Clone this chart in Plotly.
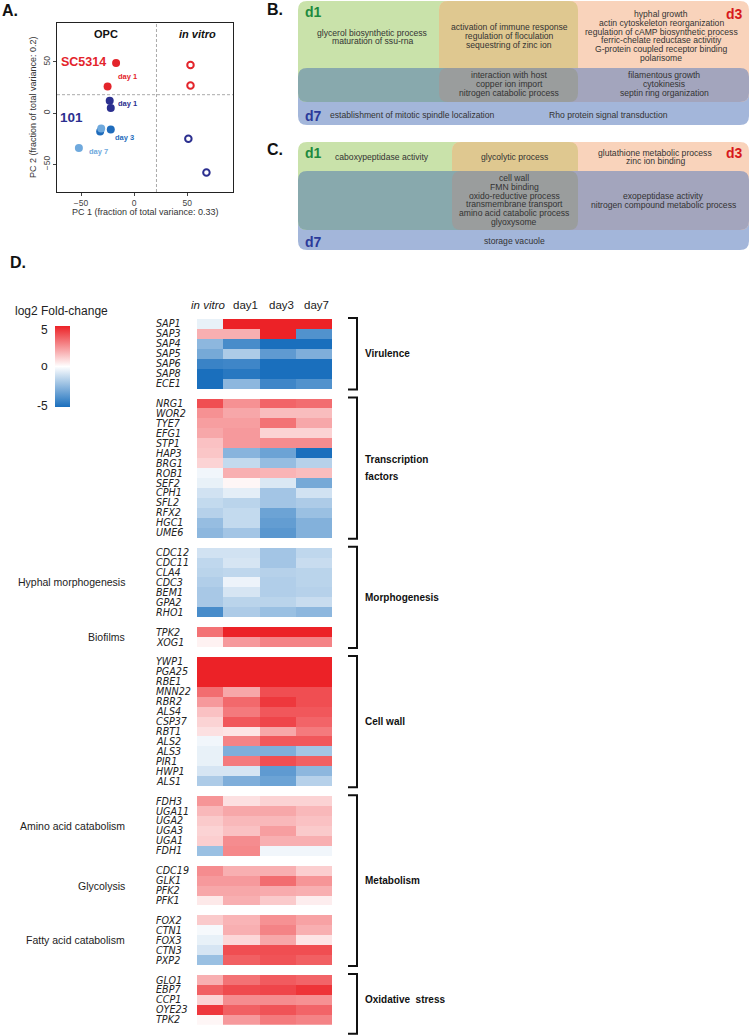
import plotly.graph_objects as go

W, H = 750, 1036
SANS = "Liberation Sans, Arial, Helvetica, sans-serif"
GENEF = "DejaVu Sans, Liberation Sans, sans-serif"

# ---------------- Panel A: PCA data ----------------
sc_opc_x = [-17, -25]
sc_opc_y = [49, 26]
s101_d1_x = [-23, -22]
s101_d1_y = [12, 5]
s101_d3_x = [-32, -22]
s101_d3_y = [-18, -16]
s101_d7_x = [-52, -31]
s101_d7_y = [-34, -15]
sc_vitro_x = [53, 53]
sc_vitro_y = [47, 27]
s101_vitro_x = [51, 68]
s101_vitro_y = [-25, -58]
pca_ticks = [-50, 0, 50]
pc1_title = "PC 1 (fraction of total variance: 0.33)"
pc2_title = "PC 2 (fraction of total variance: 0.2)"
pca_xsplit = 21
pca_ysplit = 18

# ---------------- Panel D: heatmap data ----------------
conditions = ["in vitro", "day1", "day3", "day7"]

virulence_genes = ["SAP1", "SAP3", "SAP4", "SAP5", "SAP6", "SAP8", "ECE1"]
virulence_vals = [[-0.5, 5, 5, 5], [1.8, 1.8, 5, -3.8], [-2.5, -4.0, -5, -5],
                  [-3.0, -1.8, -3.5, -2.8], [-4.3, -4.2, -5, -5], [-5, -4.7, -5, -5],
                  [-5, -2.5, -4.2, -3.8]]

tf_genes = ["NRG1", "WOR2", "TYE7", "EFG1", "STP1", "HAP3", "BRG1", "ROB1", "SEF2",
            "CPH1", "SFL2", "RFX2", "HGC1", "UME6"]
tf_vals = [[4.0, 2.5, 3.5, 3.3], [2.5, 2.0, 1.5, 1.5], [2.2, 2.2, 3.2, 2.0],
           [2.0, 2.3, 1.0, 1.0], [1.4, 2.3, 2.6, 2.6], [1.3, -2.6, -3.2, -5.0],
           [1.0, -1.3, -2.3, -1.6], [-0.3, 1.8, 1.7, 1.5], [-0.5, 0.2, -0.8, -3.0],
           [-1.0, -0.6, -2.0, -1.0], [-1.3, -1.5, -2.0, -1.8], [-1.6, -1.3, -3.2, -2.2],
           [-2.3, -1.3, -3.4, -2.7], [-2.5, -2.0, -3.6, -2.7]]

hyphal_genes = ["CDC12", "CDC11", "CLA4", "CDC3", "BEM1", "GPA2", "RHO1"]
hyphal_vals = [[-1.0, -1.0, -2.0, -1.4], [-1.4, -0.9, -2.0, -1.2], [-1.5, -1.4, -1.6, -1.5],
               [-1.7, -0.4, -1.7, -1.5], [-1.9, -0.9, -1.7, -1.6], [-1.9, -1.5, -1.5, -1.2],
               [-4.0, -1.8, -2.2, -2.5]]

biofilm_genes = ["TPK2", "XOG1"]
biofilm_vals = [[3.2, 5, 5, 5], [0.3, 2.3, 2.8, 2.8]]

cellwall_genes = ["YWP1", "PGA25", "RBE1", "MNN22", "RBR2", "ALS4", "CSP37", "RBT1",
                  "ALS2", "ALS3", "PIR1", "HWP1", "ALS1"]
cellwall_vals = [[5, 5, 5, 5], [5, 5, 5, 5], [5, 5, 5, 5], [3.3, 2.0, 4.0, 4.0],
                 [2.3, 3.4, 4.5, 4.0], [1.4, 3.0, 3.8, 3.8], [1.0, 3.8, 4.2, 3.5],
                 [0.7, 0.6, 2.0, 3.0], [-0.3, 2.8, 3.8, 3.8], [-0.5, -2.8, -2.8, -2.0],
                 [-0.5, 3.0, 4.0, 3.6], [-0.9, -0.9, -3.5, -2.5], [-1.8, -2.8, -3.2, -1.6]]

amino_genes = ["FDH3", "UGA11", "UGA2", "UGA3", "UGA1", "FDH1"]
amino_vals = [[2.4, 0.7, 1.0, 1.0], [1.6, 2.0, 2.0, 1.6], [1.2, 1.6, 1.6, 1.4],
              [1.0, 1.4, 2.2, 1.2], [1.1, 2.6, 1.8, 1.8], [-2.2, 2.7, -0.3, -0.3]]

glyco_genes = ["CDC19", "GLK1", "PFK2", "PFK1"]
glyco_vals = [[2.6, 1.8, 1.8, 1.1], [2.3, 2.3, 3.3, 2.4], [2.0, 2.0, 1.9, 1.8],
              [0.5, 1.8, 1.2, 0.4]]

fatty_genes = ["FOX2", "CTN1", "FOX3", "CTN3", "PXP2"]
fatty_vals = [[1.2, 1.7, 2.5, 2.1], [-0.2, 1.8, 2.8, 1.8], [-0.5, 0.9, 2.0, 0.6],
              [-0.9, 4.0, 4.0, 4.0], [-2.2, 3.6, 3.9, 3.6]]

oxid_genes = ["GLO1", "EBP7", "CCP1", "OYE23", "TPK2"]
oxid_vals = [[1.8, 3.2, 3.7, 3.5], [3.6, 4.1, 4.2, 4.6], [1.0, 2.6, 2.6, 2.5],
             [4.5, 3.6, 3.9, 3.5], [0.2, 2.3, 3.0, 2.8]]

blocks = [
    (virulence_genes, virulence_vals, ""),
    (tf_genes, tf_vals, ""),
    (hyphal_genes, hyphal_vals, "Hyphal morphogenesis"),
    (biofilm_genes, biofilm_vals, "Biofilms"),
    (cellwall_genes, cellwall_vals, ""),
    (amino_genes, amino_vals, "Amino acid catabolism"),
    (glyco_genes, glyco_vals, "Glycolysis"),
    (fatty_genes, fatty_vals, "Fatty acid catabolism"),
    (oxid_genes, oxid_vals, ""),
]
brackets = [
    (["Virulence"], [0]),
    (["Transcription", "factors"], [1]),
    (["Morphogenesis"], [2, 3]),
    (["Cell wall"], [4]),
    (["Metabolism"], [5, 6, 7]),
    (["Oxidative  stress"], [8]),
]

# ---------------- Venn (GO term) text ----------------
b_d1_terms = ["glycerol biosynthetic process", "maturation of ssu-rna"]
b_d1d3_terms = ["activation of immune response", "regulation of floculation", "sequestring of zinc ion"]
b_d3_terms = ["hyphal growth", "actin cytoskeleton reorganization", "regulation of cAMP biosynthetic process",
              "ferric-chelate reductase activitiy", "G-protein coupled receptor binding", "polarisome"]
b_all_terms = ["interaction with host", "copper ion import", "nitrogen catabolic process"]
b_d3d7_terms = ["filamentous growth", "cytokinesis", "septin ring organization"]
b_d7_terms_a = ["establishment of mitotic spindle localization"]
b_d7_terms_b = ["Rho protein signal transduction"]

c_d1_terms = ["caboxypeptidase activity"]
c_d1d3_terms = ["glycolytic process"]
c_d3_terms = ["glutathione metabolic process", "zinc ion binding"]
c_all_terms = ["cell wall", "FMN binding", "oxido-reductive process", "transmembrane transport",
               "amino acid catabolic process", "glyoxysome"]
c_d3d7_terms = ["exopeptidase activity", "nitrogen compound metabolic process"]
c_d7_terms = ["storage vacuole"]

# ---------------- layout constants (pixels) ----------------
A_L, A_R, A_T, A_B = 57, 233, 23, 192
A_XR = [-72.6, 93]
A_YR = [-77, 88]
HEAT_TOP = 319
ROW_H = 9.94
COL_LEFT = 197
COL_W = [26, 37, 36, 36]
HEADER_X = [208, 245, 281, 316]
LABEL_X = 154
SUBLABEL_X = 127
BRK_X0, BRK_X1 = 348, 357

C_RED = "#e3242b"
C_NAVY = "#2b2f8f"
C_MID = "#1f6cbc"
C_LIGHT = "#6fa9dd"

fig = go.Figure()

# ---- Panel A traces ----
def pca_trace(xs, ys, color, filled=True):
    return go.Scatter(
        x=xs, y=ys, mode="markers", xaxis="x", yaxis="y", hoverinfo="skip", showlegend=False,
        marker=dict(size=8 if filled else 6.5, color=color if filled else "white",
                    line=dict(color=color, width=0 if filled else 2), symbol="circle"))

fig.add_trace(pca_trace(sc_opc_x, sc_opc_y, C_RED))
fig.add_trace(pca_trace(s101_d1_x, s101_d1_y, C_NAVY))
fig.add_trace(pca_trace(s101_d3_x, s101_d3_y, C_MID))
fig.add_trace(pca_trace(s101_d7_x, s101_d7_y, C_LIGHT))
fig.add_trace(pca_trace(sc_vitro_x, sc_vitro_y, C_RED, filled=False))
fig.add_trace(pca_trace(s101_vitro_x, s101_vitro_y, C_NAVY, filled=False))

# ---- Panel D heatmap ----
slots = []
block_slots = []
z = []
s = 0
for bi, (genes, vals, _) in enumerate(blocks):
    idx = []
    for g, v in zip(genes, vals):
        z.append(list(v))
        slots.append((s, g))
        idx.append(s)
        s += 1
    block_slots.append(idx)
    if bi < len(blocks) - 1:
        z.append([None] * len(conditions))
        s += 1
n_slots = s

col_edges = [COL_LEFT]
for w in COL_W:
    col_edges.append(col_edges[-1] + w)

def slot_px(k):
    return HEAT_TOP + (k + 0.5) * ROW_H

fig.add_trace(go.Heatmap(
    z=z, x=col_edges, y=list(range(n_slots)), xaxis="x2", yaxis="y2",
    zmin=-5, zmax=5, hoverinfo="skip",
    colorscale=[[0, "#1a6fbd"], [0.5, "#ffffff"], [1, "#ec2227"]],
    colorbar=dict(x=55 / W, xanchor="left", xpad=0, y=1 - 366.5 / H, yanchor="middle", ypad=0,
                  len=81, lenmode="pixels", thickness=15, outlinewidth=0,
                  showticklabels=False, ticks=""),
))

# overlay pixel axes
fig.add_trace(go.Scatter(x=[0], y=[0], mode="markers", marker=dict(opacity=0), xaxis="x3", yaxis="y3",
                         hoverinfo="skip", showlegend=False))

shapes = []
ann = []

def text(x, y, t, size=9, color="#222", bold=False, italic=False, anchor="center", family=SANS, yanchor="middle"):
    if bold:
        t = "<b>" + t + "</b>"
    if italic:
        t = "<i>" + t + "</i>"
    ann.append(dict(x=x, y=y, xref="x3", yref="y3", text=t, showarrow=False,
                    xanchor=anchor, yanchor=yanchor,
                    font=dict(size=size, color=color, family=family)))

def lines(xc, yc, items, spacing=8.8, size=8.6, color="#333", anchor="center"):
    n = len(items)
    for i, it in enumerate(items):
        text(xc, yc + (i - (n - 1) / 2) * spacing, it, size=size, color=color, anchor=anchor)

def rrect(x0, y0, x1, y1, color, r=9):
    p = (f"M {x0 + r},{y0} L {x1 - r},{y0} Q {x1},{y0} {x1},{y0 + r} L {x1},{y1 - r} "
         f"Q {x1},{y1} {x1 - r},{y1} L {x0 + r},{y1} Q {x0},{y1} {x0},{y1 - r} "
         f"L {x0},{y0 + r} Q {x0},{y0} {x0 + r},{y0} Z")
    shapes.append(dict(type="path", path=p, xref="x3", yref="y3", fillcolor=color,
                       line=dict(width=0), layer="below"))

GREEN, ORANGE, TAN, BLUE = "#c9e2aa", "#f9d3bb", "#dfc890", "#a3b6da"
TEAL, GRAY, PURP = "#88a9ad", "#9a9d9d", "#a3a5bd"
D1C, D3C, D7C = "#1d8a3e", "#d7191c", "#2b3a9a"

def venn(top, mid_top, mid_bot, bot, xs):
    L, a, b, R = xs
    rrect(L, mid_top, R, bot, BLUE)
    rrect(L, top, b, mid_bot, GREEN)
    rrect(a, top, R, mid_bot, ORANGE)
    rrect(a, top, b, mid_bot, TAN)
    rrect(L, mid_top, a + 20, mid_bot, TEAL)
    rrect(b - 20, mid_top, R, mid_bot, PURP)
    rrect(a, mid_top, b, mid_bot, GRAY)

# Panel B
venn(1, 68, 102, 125, (298, 439, 578, 749))
text(303, 12, "d1", size=14, color=D1C, bold=True, anchor="left")
text(745, 14, "d3", size=14, color=D3C, bold=True, anchor="right")
text(303, 116, "d7", size=14, color=D7C, bold=True, anchor="left")
lines(372, 37, b_d1_terms)
lines(509, 36, b_d1d3_terms)
lines(661, 36, b_d3_terms)
lines(509, 84, b_all_terms)
lines(664, 84, b_d3d7_terms)
lines(412, 115, b_d7_terms_a)
lines(608, 115, b_d7_terms_b)
text(275, 9, "B.", size=16, color="#111", bold=True)

# Panel C
venn(142, 171, 230, 250, (298, 452, 578, 749))
text(303, 153, "d1", size=14, color=D1C, bold=True, anchor="left")
text(745, 153, "d3", size=14, color=D3C, bold=True, anchor="right")
text(303, 242, "d7", size=14, color=D7C, bold=True, anchor="left")
lines(382, 157, c_d1_terms)
lines(514, 157, c_d1d3_terms)
lines(655, 157, c_d3_terms)
lines(514, 200, c_all_terms)
lines(663, 200.5, c_d3d7_terms)
lines(514, 241, c_d7_terms)
text(275, 149, "C.", size=16, color="#111", bold=True)

# Panel A annotations
text(10, 10, "A.", size=16, color="#111", bold=True)
text(106, 34, "OPC", size=11, color="#111", bold=True)
text(197, 34, "in vitro", size=11, color="#111", bold=True, italic=True)
text(83, 62, "SC5314", size=12.5, color=C_RED, bold=True)
text(127, 76, "day 1", size=7.5, color=C_RED, bold=True)
text(127, 103, "day 1", size=7.5, color=C_NAVY, bold=True)
text(71, 117, "101", size=13.5, color=C_NAVY, bold=True)
text(124, 137, "day 3", size=7.5, color=C_MID, bold=True)
text(98, 151, "day 7", size=7.5, color=C_LIGHT, bold=True)
text(145, 212, pc1_title, size=9, color="#333")
ann.append(dict(x=33, y=107, xref="x3", yref="y3", text=pc2_title, showarrow=False, textangle=-90,
                font=dict(size=9, color="#333", family=SANS)))
shapes.append(dict(type="line", xref="x", yref="y", x0=pca_xsplit, x1=pca_xsplit, y0=A_YR[0], y1=A_YR[1],
                   line=dict(color="#aaaaaa", width=1, dash="3px,2px")))
shapes.append(dict(type="line", xref="x", yref="y", x0=A_XR[0], x1=A_XR[1], y0=pca_ysplit, y1=pca_ysplit,
                   line=dict(color="#aaaaaa", width=1, dash="3px,2px")))

# Panel D annotations
text(8, 262, "D.", size=16, color="#111", bold=True, anchor="left")
text(61, 311, "log2 Fold-change", size=12, color="#222")
text(50, 330, "5", size=12, color="#222", anchor="right")
text(50, 366, "o", size=12, color="#222", anchor="right")
text(50, 406, "-5", size=12, color="#222", anchor="right")
for c, xc in zip(conditions, HEADER_X):
    text(xc, 305, c, size=11.5, color="#222", italic=(c == "in vitro"))
for k, g in slots:
    text(LABEL_X, slot_px(k), g, size=9.6, color="#222", italic=True, anchor="left", family=GENEF)
for (genes, vals, sub), idx in zip(blocks, block_slots):
    if sub:
        yc = (slot_px(idx[0]) + slot_px(idx[-1])) / 2
        text(SUBLABEL_X, yc, sub, size=10.5, color="#222", anchor="right")
for bi, (lab, members) in enumerate(brackets):
    first = block_slots[members[0]][0]
    last = block_slots[members[-1]][-1]
    t = slot_px(first) - 0.6 * ROW_H
    b = slot_px(last) + (1.4 if bi == len(brackets) - 1 else 0.6) * ROW_H
    shapes.append(dict(type="path", xref="x3", yref="y3",
                       path=f"M {BRK_X0},{t} L {BRK_X1},{t} L {BRK_X1},{b} L {BRK_X0},{b}",
                       line=dict(color="#111", width=2)))
    yc = (slot_px(first) + slot_px(last)) / 2
    nlab = len(lab)
    for i, l in enumerate(lab):
        text(363, yc + (i - (nlab - 1) / 2) * 17, l, size=10, color="#111", bold=True, anchor="left")

heat_bottom = HEAT_TOP + n_slots * ROW_H

fig.update_layout(
    width=W, height=H, margin=dict(l=0, r=0, t=0, b=0),
    paper_bgcolor="white", plot_bgcolor="rgba(0,0,0,0)",
    font=dict(family=SANS, color="#222"),
    showlegend=False,
    xaxis=dict(domain=[A_L / W, A_R / W], range=A_XR, tickvals=pca_ticks, ticks="outside", ticklen=3,
               showgrid=False, zeroline=False, showline=True, mirror=True, linecolor="#222", linewidth=1,
               tickfont=dict(size=8.5, color="#444"), anchor="y"),
    yaxis=dict(domain=[1 - A_B / H, 1 - A_T / H], range=A_YR, tickvals=pca_ticks, ticks="outside", ticklen=3,
               showgrid=False, zeroline=False, showline=True, mirror=True, linecolor="#222", linewidth=1,
               tickfont=dict(size=8.5, color="#444"), tickangle=-90, anchor="x"),
    xaxis2=dict(domain=[0, 1], range=[0, W], visible=False, anchor="y2"),
    yaxis2=dict(domain=[1 - heat_bottom / H, 1 - HEAT_TOP / H], range=[n_slots - 0.5, -0.5],
                visible=False, anchor="x2"),
    xaxis3=dict(domain=[0, 1], range=[0, W], visible=False, anchor="y3", fixedrange=True),
    yaxis3=dict(domain=[0, 1], range=[H, 0], visible=False, anchor="x3", fixedrange=True),
    shapes=shapes, annotations=ann,
)

fig.write_html("out.html", config={"displayModeBar": False},
               post_script="document.body.style.margin='0';document.body.style.overflow='hidden';")
